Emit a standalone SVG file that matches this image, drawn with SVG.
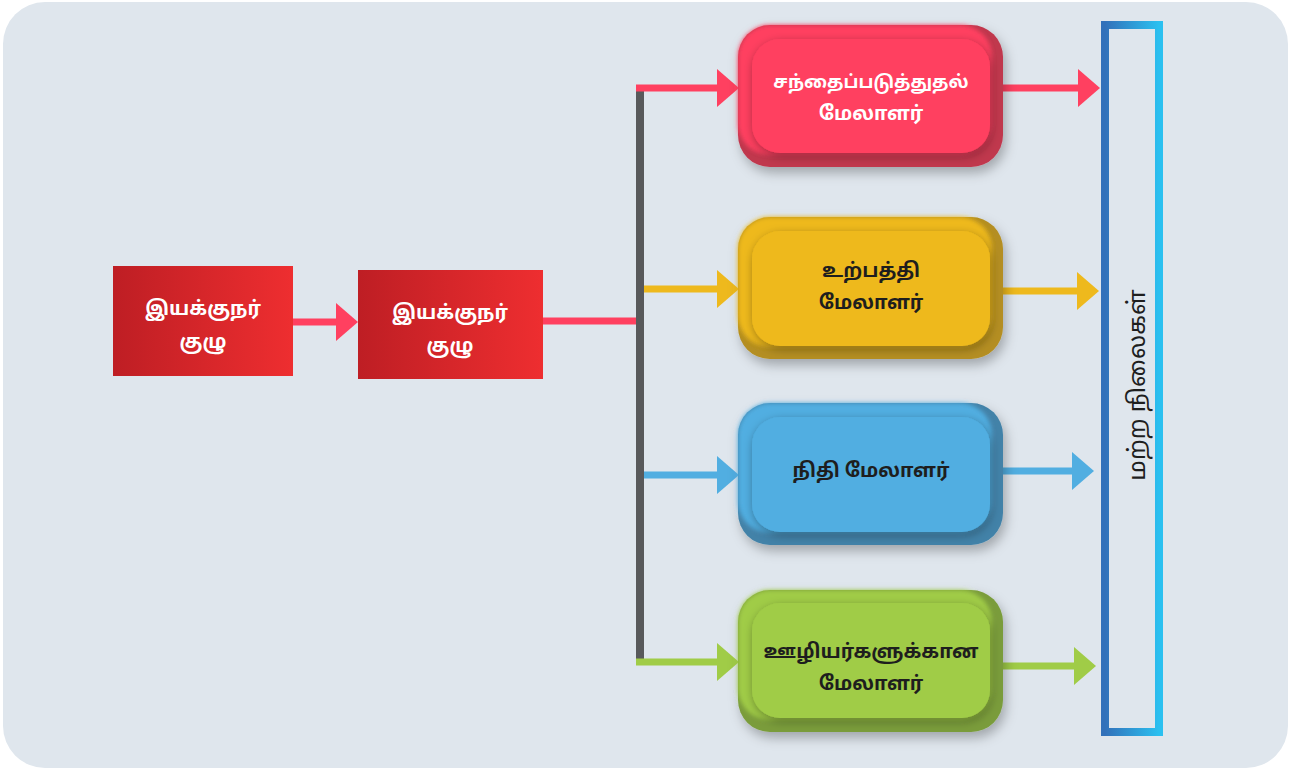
<svg xmlns="http://www.w3.org/2000/svg" width="1290" height="772" viewBox="0 0 1290 772">
  <defs>
    <linearGradient id="redBox" x1="0" y1="0" x2="1" y2="0">
      <stop offset="0" stop-color="#be1e24"/>
      <stop offset="1" stop-color="#ee2e30"/>
    </linearGradient>
    <linearGradient id="frameGrad" x1="0" y1="0" x2="1" y2="0">
      <stop offset="0" stop-color="#3271ba"/>
      <stop offset="1" stop-color="#2bc0f0"/>
    </linearGradient>
    <filter id="cardShadow" x="-20%" y="-20%" width="140%" height="150%">
      <feDropShadow dx="3" dy="6" stdDeviation="6" flood-color="#000" flood-opacity="0.28"/>
    </filter>
    <filter id="innerShadow" x="-20%" y="-20%" width="140%" height="150%">
      <feDropShadow dx="1" dy="3" stdDeviation="5" flood-color="#000" flood-opacity="0.35"/>
    </filter>
    <filter id="soft" x="-10%" y="-10%" width="120%" height="120%">
      <feGaussianBlur stdDeviation="2"/>
    </filter>
    <marker id="headRed" viewBox="0 0 22 38" refX="0" refY="19" markerWidth="22" markerHeight="38" markerUnits="userSpaceOnUse" orient="auto">
      <path d="M0 0 L22 19 L0 38 Z" fill="#ff4060"/>
    </marker>
    <marker id="headYellow" viewBox="0 0 22 38" refX="0" refY="19" markerWidth="22" markerHeight="38" markerUnits="userSpaceOnUse" orient="auto">
      <path d="M0 0 L22 19 L0 38 Z" fill="#eeb91d"/>
    </marker>
    <marker id="headBlue" viewBox="0 0 22 38" refX="0" refY="19" markerWidth="22" markerHeight="38" markerUnits="userSpaceOnUse" orient="auto">
      <path d="M0 0 L22 19 L0 38 Z" fill="#51aee1"/>
    </marker>
    <marker id="headGreen" viewBox="0 0 22 38" refX="0" refY="19" markerWidth="22" markerHeight="38" markerUnits="userSpaceOnUse" orient="auto">
      <path d="M0 0 L22 19 L0 38 Z" fill="#a0cc47"/>
    </marker>
  </defs>
  <style>
    .label { font-family: "Noto Sans Tamil", "Lohit Tamil", "Latha", "Noto Sans", sans-serif; font-weight: bold; font-size: 19.5px; text-anchor: middle; }
    .light { fill: #ffffff; }
    .dark { fill: #1e1e1e; }
    .wire { fill: none; stroke-width: 7; }
    .red { stroke: #ff4060; }
    .yellow { stroke: #eeb91d; }
    .blue { stroke: #51aee1; }
    .green { stroke: #a0cc47; }
  </style>

  <!-- page -->
  <rect x="0" y="0" width="1290" height="772" fill="#ffffff"/>
  <rect x="3" y="2" width="1285" height="766" rx="42" fill="#dfe6ed"/>

  <!-- connectors -->
  <g id="connectors">
    <line class="wire red" x1="293" y1="322" x2="336" y2="322" marker-end="url(#headRed)"/>
    <line class="wire red" x1="543" y1="321" x2="640" y2="321"/>
    <line x1="640" y1="90" x2="640" y2="662" stroke="#58595b" stroke-width="8"/>
    <line class="wire red" x1="636" y1="88" x2="717" y2="88" marker-end="url(#headRed)"/>
    <line class="wire yellow" x1="644" y1="289" x2="717" y2="289" marker-end="url(#headYellow)"/>
    <line class="wire blue" x1="644" y1="475" x2="717" y2="475" marker-end="url(#headBlue)"/>
    <line class="wire green" x1="636" y1="662" x2="717" y2="662" marker-end="url(#headGreen)"/>
    <line class="wire red" x1="1003" y1="88" x2="1078" y2="88" marker-end="url(#headRed)"/>
    <line class="wire yellow" x1="1003" y1="291" x2="1077" y2="291" marker-end="url(#headYellow)"/>
    <line class="wire blue" x1="1003" y1="471" x2="1072" y2="471" marker-end="url(#headBlue)"/>
    <line class="wire green" x1="1003" y1="666" x2="1074" y2="666" marker-end="url(#headGreen)"/>
  </g>

  <!-- board members -->
  <g id="board1">
    <rect x="113" y="266" width="180" height="110" fill="url(#redBox)"/>
    <text class="label light" x="203" y="315">இயக்குநர்</text>
    <text class="label light" x="203" y="348">குழு</text>
  </g>
  <g id="board2">
    <rect x="358" y="270" width="185" height="109" fill="url(#redBox)"/>
    <text class="label light" x="450" y="319">இயக்குநர்</text>
    <text class="label light" x="450" y="352">குழு</text>
  </g>

  <!-- managers -->
  <g id="marketing">
    <g filter="url(#cardShadow)">
      <rect x="738" y="25" width="265" height="142" rx="32" fill="#c0374d"/>
      <rect x="738" y="25" width="254" height="130" rx="32" fill="#ff4060" filter="url(#soft)"/>
    </g>
    <rect x="752" y="39" width="238" height="114" rx="28" fill="#ff4060" filter="url(#innerShadow)"/>
    <text class="label light" x="871" y="88" style="font-size:18px">சந்தைப்படுத்துதல்</text>
    <text class="label light" x="871" y="120">மேலாளர்</text>
  </g>
  <g id="production">
    <g filter="url(#cardShadow)">
      <rect x="738" y="217" width="265" height="142" rx="32" fill="#b48e20"/>
      <rect x="738" y="217" width="254" height="130" rx="32" fill="#eeb91d" filter="url(#soft)"/>
    </g>
    <rect x="752" y="231" width="238" height="115" rx="28" fill="#eeb91d" filter="url(#innerShadow)"/>
    <text class="label dark" x="871" y="277">உற்பத்தி</text>
    <text class="label dark" x="871" y="309">மேலாளர்</text>
  </g>
  <g id="finance">
    <g filter="url(#cardShadow)">
      <rect x="738" y="403" width="265" height="142" rx="32" fill="#4382a8"/>
      <rect x="738" y="403" width="254" height="130" rx="32" fill="#51aee1" filter="url(#soft)"/>
    </g>
    <rect x="752" y="417" width="238" height="115" rx="28" fill="#51aee1" filter="url(#innerShadow)"/>
    <text class="label dark" x="871" y="477">நிதி மேலாளர்</text>
  </g>
  <g id="staff">
    <g filter="url(#cardShadow)">
      <rect x="738" y="590" width="265" height="142" rx="32" fill="#7a9c3b"/>
      <rect x="738" y="590" width="254" height="130" rx="32" fill="#a0cc47" filter="url(#soft)"/>
    </g>
    <rect x="752" y="603" width="238" height="115" rx="28" fill="#a0cc47" filter="url(#innerShadow)"/>
    <text class="label dark" x="871" y="658">ஊழியர்களுக்கான</text>
    <text class="label dark" x="871" y="690">மேலாளர்</text>
  </g>

  <!-- other levels -->
  <g id="otherLevels">
    <rect x="1105" y="25" width="54" height="707" fill="none" stroke="url(#frameGrad)" stroke-width="8"/>
    <text class="label dark" x="0" y="0" transform="translate(1145 385) rotate(-90)" style="font-size:24px;font-weight:normal">மற்ற நிலைகள்</text>
  </g>
</svg>
